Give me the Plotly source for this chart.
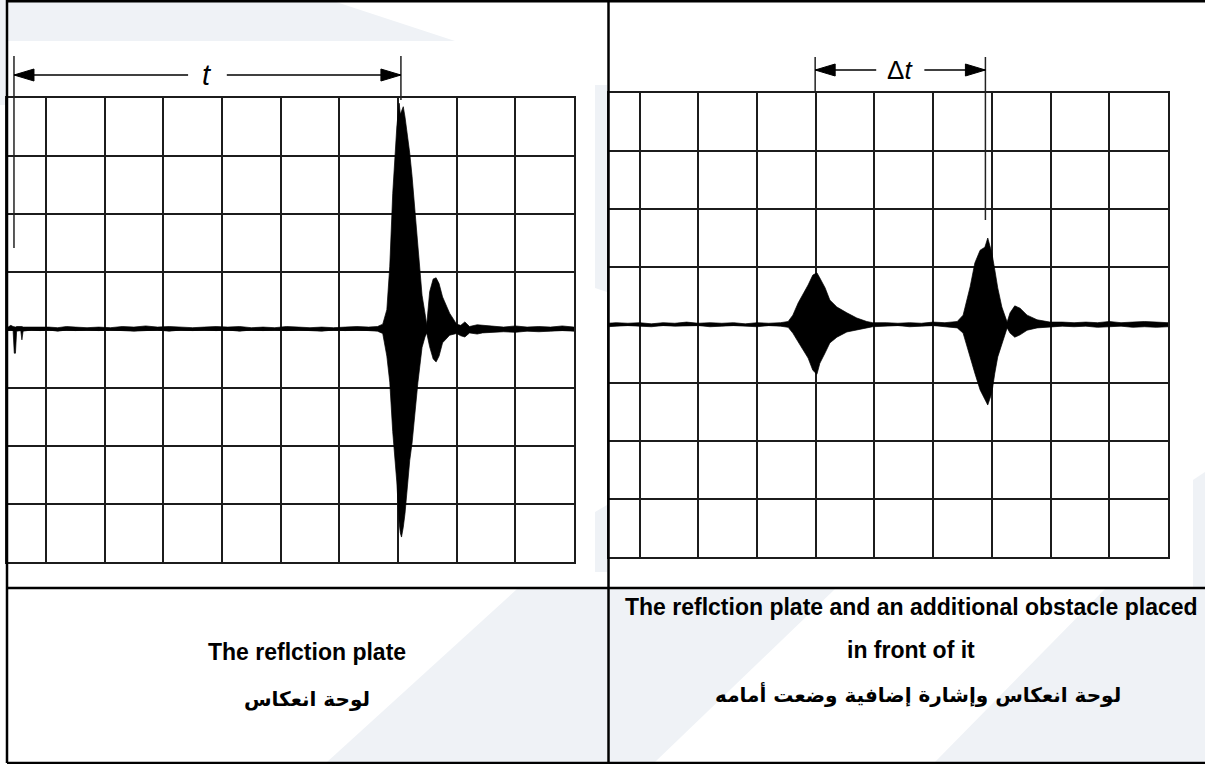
import plotly.graph_objects as go

W, H = 1205, 764

# ---------------- data (screen divisions) ----------------
# left oscilloscope: reflection plate only
left_x = [0.34, 0.40, 0.44, 0.46, 0.48, 0.50, 0.57, 0.59, 0.61, 0.75, 0.90, 1.05, 1.20, 1.35,
          1.50, 1.70, 1.90, 2.10, 2.30, 2.50, 2.70, 2.90, 3.10, 3.30, 3.50, 3.70, 3.90, 4.10,
          4.30, 4.50, 4.70, 4.90, 5.10, 5.30, 5.50, 5.70, 5.90, 6.10, 6.30, 6.50, 6.65, 6.74,
          6.81, 6.86, 6.91, 6.98, 7.02, 7.04, 7.06, 7.09, 7.12, 7.17, 7.20, 7.24, 7.29, 7.34,
          7.41, 7.46, 7.49, 7.54, 7.60, 7.65, 7.70, 7.76, 7.88, 8.00, 8.07, 8.14, 8.22, 8.35,
          8.44, 8.60, 8.80, 9.00, 9.20, 9.40, 9.60, 9.80, 10.0]
left_upper = [0.04, 0.08, 0.06, 0.05, 0.05, 0.06, 0.07, 0.06, 0.05, 0.05, 0.06, 0.05, 0.04, 0.06,
              0.05, 0.04, 0.05, 0.04, 0.06, 0.05, 0.07, 0.05, 0.06, 0.05, 0.04, 0.05, 0.06, 0.05,
              0.06, 0.04, 0.05, 0.04, 0.06, 0.05, 0.04, 0.05, 0.04, 0.05, 0.06, 0.05, 0.06, 0.10,
              0.35, 1.10, 2.35, 3.50, 3.91, 3.72, 3.79, 3.85, 3.67, 3.30, 3.05, 2.65, 2.05, 1.45,
              0.60, 0.29, 0.09, 0.66, 0.88, 0.90, 0.80, 0.57, 0.29, 0.10, 0.08, 0.14, 0.06, 0.09,
              0.08, 0.06, 0.05, 0.07, 0.05, 0.06, 0.05, 0.07, 0.05]
left_lower = [-0.01, 0.00, -0.01, -0.40, -0.40, -0.02, -0.01, -0.17, -0.02, 0.00, -0.01, 0.00, -0.02, 0.00,
              -0.01, 0.00, -0.01, 0.00, -0.01, -0.02, -0.01, 0.00, -0.02, 0.00, -0.01, 0.00, -0.01, 0.00,
              -0.02, 0.00, -0.01, 0.00, -0.01, 0.00, -0.01, -0.02, 0.00, -0.01, 0.00, -0.01, -0.02, -0.06,
              -0.45, -0.90, -1.75, -2.62, -3.33, -3.50, -3.57, -3.40, -3.16, -2.62, -2.25, -1.95, -1.45, -0.90,
              -0.30, -0.12, -0.05, -0.29, -0.50, -0.55, -0.45, -0.22, -0.09, -0.06, -0.10, -0.12, -0.05, -0.07,
              -0.05, -0.04, -0.03, -0.04, -0.02, -0.03, -0.02, -0.01, -0.02]

# right oscilloscope: plate plus an obstacle in front of it
right_x = [0.46, 0.60, 0.80, 1.00, 1.20, 1.40, 1.60, 1.80, 2.00, 2.20, 2.40, 2.60, 2.80, 3.00,
           3.20, 3.40, 3.53, 3.61, 3.70, 3.78, 3.87, 3.95, 4.02, 4.07, 4.16, 4.24, 4.36, 4.53,
           4.70, 4.87, 4.97, 5.20, 5.40, 5.60, 5.80, 6.00, 6.20, 6.41, 6.51, 6.63, 6.71, 6.80,
           6.88, 6.93, 7.00, 7.05, 7.10, 7.17, 7.26, 7.31, 7.39, 7.48, 7.60, 7.77, 7.99, 8.20,
           8.40, 8.60, 8.80, 9.00, 9.20, 9.40, 9.60, 9.80, 10.0]
right_upper = [0.03, 0.04, 0.03, 0.04, 0.02, 0.04, 0.03, 0.05, 0.03, 0.04, 0.03, 0.04, 0.02, 0.04,
               0.03, 0.04, 0.06, 0.17, 0.38, 0.52, 0.69, 0.86, 0.90, 0.81, 0.64, 0.43, 0.31, 0.21,
               0.12, 0.06, 0.04, 0.04, 0.03, 0.04, 0.03, 0.05, 0.04, 0.06, 0.17, 0.66, 1.07, 1.29,
               1.34, 1.50, 1.24, 0.95, 0.64, 0.31, 0.05, 0.21, 0.33, 0.29, 0.17, 0.09, 0.05, 0.05,
               0.04, 0.05, 0.04, 0.06, 0.04, 0.05, 0.06, 0.05, 0.04]
right_lower = [-0.03, -0.02, -0.01, -0.02, -0.03, -0.01, -0.02, -0.02, -0.01, -0.03, -0.02, -0.01, -0.02, -0.03,
               -0.01, -0.02, -0.04, -0.14, -0.29, -0.43, -0.57, -0.78, -0.85, -0.66, -0.48, -0.31, -0.21, -0.12,
               -0.09, -0.05, -0.03, -0.02, -0.01, -0.03, -0.02, -0.01, -0.03, -0.05, -0.14, -0.55, -0.83, -1.12,
               -1.29, -1.38, -1.17, -0.83, -0.55, -0.31, -0.05, -0.14, -0.21, -0.17, -0.09, -0.05, -0.04, -0.02,
               -0.03, -0.02, -0.04, -0.03, -0.02, -0.04, -0.03, -0.04, -0.03]

# time markers (divisions)
t_markers = [0.455, 7.05]      # trigger -> echo from plate
dt_markers = [3.99, 6.89]      # obstacle echo -> plate echo

arrow_labels = ["<i>t</i>", "Δ<i>t</i>"]
caption_left = ["<b>The reflction plate</b>", "<b>لوحة انعكاس</b>"]
caption_right = ["<b>The reflction plate and an additional obstacle placed</b>",
                 "<b>in front of it</b>",
                 "<b>لوحة انعكاس وإشارة إضافية وضعت أمامه</b>"]

# ---------------- helpers ----------------
def PX(px):
    return px / W

def PY(py):
    return 1 - py / H

def poly(x, up, lo):
    return list(x) + list(x)[::-1] + [x[0]], list(up) + list(lo)[::-1] + [up[0]]

WM = "#eff2f6"
GRID = "#1c1c1c"

fig = go.Figure()
lx, ly = poly(left_x, left_upper, left_lower)
rx, ry = poly(right_x, right_upper, right_lower)
fig.add_trace(go.Scatter(x=lx, y=ly, fill="toself", fillcolor="black", mode="lines",
                         line=dict(color="black", width=0.7), hoverinfo="skip", showlegend=False,
                         xaxis="x", yaxis="y"))
fig.add_trace(go.Scatter(x=rx, y=ry, fill="toself", fillcolor="black", mode="lines",
                         line=dict(color="black", width=0.7), hoverinfo="skip", showlegend=False,
                         xaxis="x2", yaxis="y2"))

ax_common = dict(showgrid=True, gridcolor=GRID, gridwidth=2, dtick=1, tick0=0,
                 showticklabels=False, ticks="", zeroline=False, showline=True,
                 linecolor=GRID, linewidth=2, mirror=True, fixedrange=True)

fig.update_layout(
    width=W, height=H, autosize=False, margin=dict(l=0, r=0, t=0, b=0, pad=0),
    paper_bgcolor="white", plot_bgcolor="white", showlegend=False,
    xaxis=dict(domain=[PX(7), PX(574)], range=[0.336, 10], **ax_common),
    yaxis=dict(domain=[PY(562), PY(98)], range=[-4, 4], **ax_common),
    xaxis2=dict(domain=[PX(608.5), PX(1168)], range=[0.47, 10], anchor="y2", **ax_common),
    yaxis2=dict(domain=[PY(557), PY(93)], range=[-4, 4], anchor="x2", **ax_common),
)

shapes = []

def wm_poly(pts):
    d = "M " + " L ".join(f"{PX(a):.5f},{PY(b):.5f}" for a, b in pts) + " Z"
    shapes.append(dict(type="path", path=d, xref="paper", yref="paper",
                       fillcolor=WM, line=dict(width=0), layer="below"))

# faint watermark background
wm_poly([(0, 0), (330, 0), (455, 41), (7, 41), (7, 105), (0, 105)])
wm_poly([(595, 85), (607, 85), (607, 292), (595, 288)])
wm_poly([(595, 512), (607, 505), (607, 572), (595, 572)])
wm_poly([(517, 589), (607, 589), (607, 762), (327, 762)])
wm_poly([(609, 589), (835, 589), (655, 762), (609, 762)])
wm_poly([(1105, 589), (1205, 589), (1205, 762), (935, 762)])
wm_poly([(1193, 480), (1205, 472), (1205, 588), (1193, 588)])

# table borders
def pline(x0, y0, x1, y1, w=2.5):
    shapes.append(dict(type="line", xref="paper", yref="paper", x0=PX(x0), y0=PY(y0),
                       x1=PX(x1), y1=PY(y1), line=dict(color="black", width=w)))

pline(7, 1, 1205, 1, 3)
pline(7, 0, 7, 763)
pline(608.5, 0, 608.5, 763)
pline(7, 588, 1205, 588)
pline(7, 763, 1205, 763)

# measurement arrows
def vtick(xref, xv, y0, y1):
    shapes.append(dict(type="line", xref=xref, yref="paper", x0=xv, x1=xv,
                       y0=PY(y0), y1=PY(y1), line=dict(color="#222", width=1.5)))

def hseg(xref, xa, xb, yp):
    shapes.append(dict(type="line", xref=xref, yref="paper", x0=xa, x1=xb,
                       y0=PY(yp), y1=PY(yp), line=dict(color="black", width=1.5)))

def head(xref, xv, yp, direction):
    L, h = 20 * direction, 6
    d = f"M 0,0 L {L},{h} L {L},{-h} Z"
    shapes.append(dict(type="path", xref=xref, yref="paper", xsizemode="pixel",
                       ysizemode="pixel", xanchor=xv, yanchor=PY(yp), path=d,
                       fillcolor="black", line=dict(color="black", width=1)))

annotations = []

def measure(xref, markers, yp, gap, label, size, top_ticks, bottoms):
    a, b = markers
    mid = (a + b) / 2
    vtick(xref, a, top_ticks, bottoms[0])
    vtick(xref, b, top_ticks, bottoms[1])
    hseg(xref, a, mid - gap, yp)
    hseg(xref, mid + gap, b, yp)
    head(xref, a, yp, 1)
    head(xref, b, yp, -1)
    annotations.append(dict(x=mid, y=PY(yp), xref=xref, yref="paper", text=label,
                            showarrow=False, xanchor="center", yanchor="middle",
                            font=dict(family="Liberation Sans, Arial", size=size, color="black")))

measure("x", t_markers, 75, 0.33, arrow_labels[0], 29, 56, (248, 100))
measure("x2", dt_markers, 70, 0.41, arrow_labels[1], 26, 57, (93, 220))

cap_font = dict(family="Liberation Sans Narrow, Arial Narrow, Liberation Sans", size=23, color="black")
ar_font = dict(family="DejaVu Sans, Noto Sans", size=20, color="black")

def caption(xp, yp, text, font):
    annotations.append(dict(x=PX(xp), y=PY(yp), xref="paper", yref="paper", text=text,
                            showarrow=False, xanchor="center", yanchor="middle", font=font))

caption(307, 652, caption_left[0], cap_font)
caption(307, 699, caption_left[1], ar_font)
caption(911, 607, caption_right[0], cap_font)
caption(911, 650, caption_right[1], cap_font)
caption(918, 694, caption_right[2], ar_font)

fig.update_layout(shapes=shapes, annotations=annotations)
fig.write_html("out.html", config={"displayModeBar": False, "staticPlot": True},
               post_script="document.body.style.margin='0';document.body.style.overflow='hidden';")
